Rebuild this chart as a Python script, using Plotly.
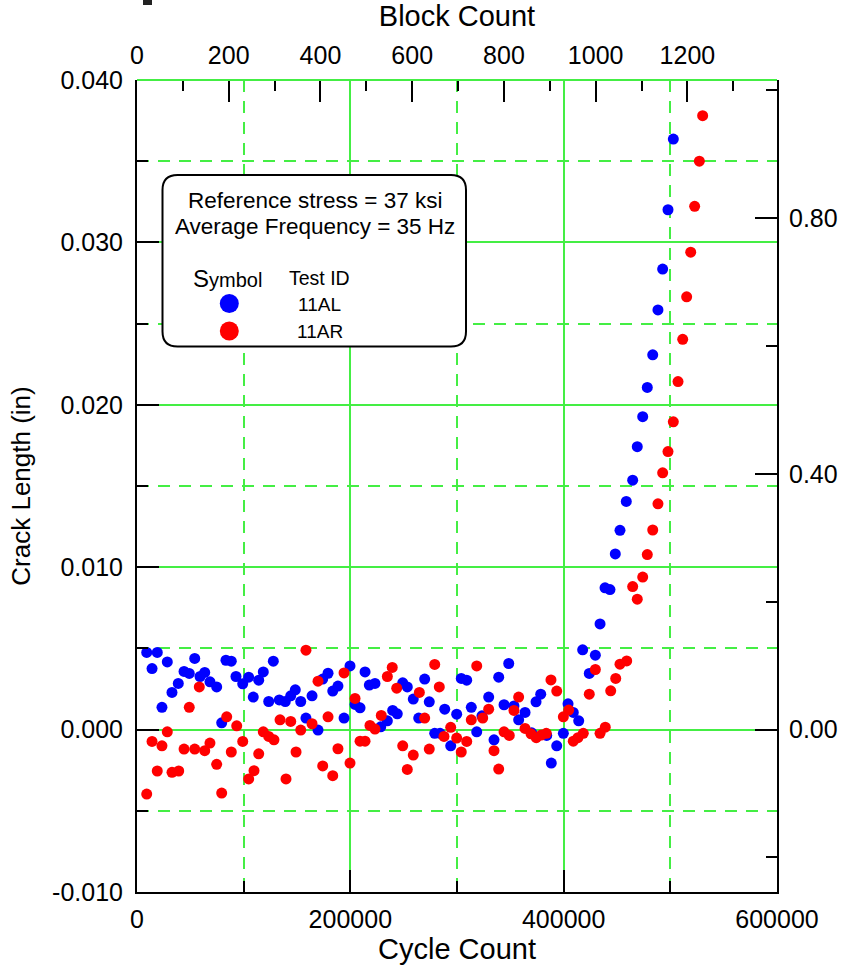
import plotly.graph_objects as go

# ---------------- data ----------------
blue_cycles = [9100, 14100, 19000, 23400, 28400, 32800, 38700, 44100, 49000, 54100,
               59100, 63500, 68400, 74700, 79400, 83400, 88400, 92800, 99100, 104700,
               109000, 114100, 118400, 123500, 127800, 133400, 139000, 144100, 148400, 153500,
               158400, 164100, 169700, 174100, 179100, 183500, 188400, 194100, 199700, 204400,
               209100, 213800, 217800, 223100, 228500, 234700, 239700, 244000, 249100, 253400,
               259000, 264100, 269700, 274000, 279100, 284100, 288500, 294100, 299700, 304000,
               309100, 313400, 318500, 323400, 329700, 334700, 339100, 344100, 348500, 353400,
               357800, 363800, 370000, 374100, 378500, 384100, 388400, 393500, 399700, 404100,
               409000, 414100, 417800, 424000, 429700, 434100, 438800, 443400, 448400, 452800,
               458700, 464700, 469000, 474100, 478400, 483500, 488400, 492800, 497800, 502800]
blue_crack = [0.00475, 0.00376, 0.00475, 0.00137, 0.00417, 0.00229, 0.00284, 0.00358, 0.00346, 0.00438,
              0.00327, 0.00352, 0.00294, 0.00263, 0.00042, 0.00427, 0.00421, 0.00327, 0.00282, 0.00323,
              0.00200, 0.00304, 0.00355, 0.00173, 0.00421, 0.00183, 0.00173, 0.00208, 0.00245, 0.00173,
              0.00071, 0.00208, -0.00003, 0.00311, 0.00347, 0.00237, 0.00268, 0.00071, 0.00392, 0.00155,
              0.00134, 0.00355, 0.00274, 0.00284, 0.00017, 0.00054, 0.00118, 0.00097, 0.00288, 0.00263,
              0.00188, 0.00071, 0.00311, 0.00171, -0.00023, -0.00023, 0.00126, -0.00100, 0.00095, 0.00315,
              0.00304, 0.00137, -0.00014, 0.00085, 0.00200, -0.00063, 0.00323, 0.00153, 0.00407, 0.00146,
              0.00060, 0.00106, -0.00020, 0.00171, 0.00218, -0.00036, -0.00206, -0.00100, -0.00023, 0.00159,
              0.00106, 0.00054, 0.00491, 0.00346, 0.00458, 0.00651, 0.00873, 0.00862, 0.01082, 0.01227,
              0.01405, 0.01536, 0.01742, 0.01927, 0.02107, 0.02308, 0.02584, 0.02836, 0.03201, 0.03636]

red_cycles = [9100, 14100, 19000, 23400, 28400, 32800, 39100, 44100, 49000, 54100,
              58400, 63500, 68400, 74700, 79400, 84100, 88400, 93500, 99100, 104700,
              109700, 114100, 118400, 123500, 128400, 134100, 139700, 144100, 149100, 153500,
              158400, 164100, 169700, 174100, 179100, 183500, 188400, 194100, 199700, 204400,
              209100, 213800, 218400, 223100, 229000, 234700, 239300, 243500, 249100, 253400,
              259000, 264700, 269700, 274000, 279100, 283400, 287800, 294100, 299700, 304000,
              309100, 313400, 318500, 324100, 329700, 334700, 339100, 344100, 349000, 353400,
              357800, 363800, 369400, 374300, 379000, 383700, 388100, 393500, 399700, 404700,
              409000, 413400, 418400, 424000, 429700, 434100, 439000, 444100, 448800, 452800,
              459100, 464700, 469000, 474100, 478400, 483500, 488400, 492800, 497800, 502800,
              507200, 511600, 515300, 519100, 522800, 527200, 530300]
red_crack = [-0.00397, -0.00073, -0.00255, -0.00100, -0.00014, -0.00263, -0.00255, -0.00120, 0.00137, -0.00120,
             0.00263, -0.00130, -0.00083, -0.00214, -0.00391, 0.00079, -0.00138, 0.00023, -0.00073, -0.00304,
             -0.00253, -0.00149, -0.00014, -0.00042, -0.00063, 0.00060, -0.00304, 0.00050, -0.00138, -0.00003,
             0.00489, 0.00036, 0.00298, -0.00224, 0.00079, -0.00284, -0.00118, 0.00349, -0.00206, 0.00192,
             -0.00071, -0.00071, 0.00026, 0.00003, 0.00087, 0.00327, 0.00383, 0.00255, -0.00100, -0.00245,
             -0.00157, 0.00229, 0.00071, -0.00120, 0.00401, 0.00263, -0.00042, 0.00014, -0.00052, -0.00138,
             -0.00073, 0.00060, 0.00392, 0.00071, 0.00126, -0.00130, -0.00243, -0.00014, -0.00036, 0.00118,
             0.00200, 0.00007, -0.00026, -0.00050, -0.00034, -0.00023, 0.00306, 0.00237, 0.00079, 0.00120,
             -0.00071, -0.00050, -0.00023, 0.00218, 0.00370, -0.00023, 0.00015, 0.00239, 0.00315, 0.00403,
             0.00423, 0.00881, 0.00803, 0.00939, 0.01078, 0.01229, 0.01390, 0.01581, 0.01712, 0.01895,
             0.02143, 0.02403, 0.02665, 0.02940, 0.03222, 0.03500, 0.03780]

series_names = ["11AL", "11AR"]
left_tickvals = [-0.010, 0.000, 0.010, 0.020, 0.030, 0.040]
left_ticktext = ["-0.010", "0.000", "0.010", "0.020", "0.030", "0.040"]
left_minorvals = [-0.005, 0.005, 0.015, 0.025, 0.035]
right_tickvals = [0.0, 0.4, 0.8]
right_ticktext = ["0.00", "0.40", "0.80"]
right_minorvals = [-0.2, 0.2, 0.6, 1.0]
bottom_tickvals = [0, 200000, 400000, 600000]
bottom_ticktext = ["0", "200000", "400000", "600000"]
bottom_minorvals = [100000, 300000, 500000]
cycles_per_block = 430
x_range = [0, 600000]
y_range = [-0.010, 0.040]
mm_per_in = 25.4
legend_lines = ["Reference stress = 37 ksi", "Average Frequency = 35 Hz"]

# ---------------- styling ----------------
FONT = "Liberation Sans, Arial, Helvetica, sans-serif"
GREEN = "#44ee44"
GW = 2
DASH = "12px,9px"
W, H = 842, 969
L, R, T, B = 137, 65, 80, 77
PW, PH = W - L - R, H - T - B


def px(xp):
    return (xp - L) / PW


def py(yp):
    return (H - B - yp) / PH


fig = go.Figure()
fig.add_trace(go.Scatter(x=blue_cycles, y=blue_crack, mode="markers", name=series_names[0],
                         marker=dict(color="#0000ff", size=11, line=dict(width=0))))
fig.add_trace(go.Scatter(x=red_cycles, y=red_crack, mode="markers", name=series_names[1],
                         marker=dict(color="#ff0000", size=11, line=dict(width=0))))
# invisible trace to activate secondary axes
fig.add_trace(go.Scatter(x=[0], y=[0], xaxis="x2", yaxis="y2", mode="markers",
                         marker=dict(opacity=0), hoverinfo="skip", showlegend=False))

tickfont = dict(family=FONT, size=25, color="black")
titlefont = dict(family=FONT, size=29, color="black")
ytitlefont = dict(family=FONT, size=26, color="black")

fig.update_layout(
    width=W, height=H, margin=dict(l=L, r=R, t=T, b=B, autoexpand=False),
    paper_bgcolor="white", plot_bgcolor="white", showlegend=False,
    font=dict(family=FONT, color="black"),
    xaxis=dict(range=x_range, tickmode="array", tickvals=bottom_tickvals, ticktext=bottom_ticktext,
               ticks="inside", ticklen=22, tickwidth=2, tickcolor="black", ticklabelstandoff=4,
               showline=True, linecolor="black", linewidth=2, zeroline=False,
               showgrid=True, gridcolor=GREEN, gridwidth=GW,
               minor=dict(tickmode="array", tickvals=bottom_minorvals, ticks="inside", ticklen=11,
                          tickwidth=2, tickcolor="black", showgrid=True, gridcolor=GREEN,
                          gridwidth=GW, griddash=DASH),
               tickfont=tickfont, title=dict(text="Cycle Count", font=titlefont, standoff=6)),
    yaxis=dict(range=y_range, tickmode="array", tickvals=left_tickvals, ticktext=left_ticktext,
               ticks="inside", ticklen=22, tickwidth=2, tickcolor="black", ticklabelstandoff=7,
               showline=True, linecolor="black", linewidth=2, zeroline=False,
               showgrid=True, gridcolor=GREEN, gridwidth=GW,
               minor=dict(tickmode="array", tickvals=left_minorvals, ticks="inside", ticklen=11,
                          tickwidth=2, tickcolor="black", showgrid=True, gridcolor=GREEN,
                          gridwidth=GW, griddash=DASH),
               tickfont=tickfont, title=dict(text="Crack Length (in)", font=ytitlefont, standoff=14)),
    xaxis2=dict(overlaying="x", side="top", range=[x_range[0] / cycles_per_block, x_range[1] / cycles_per_block],
                tick0=0, dtick=200, ticks="inside", ticklen=22, tickwidth=2, tickcolor="black",
                ticklabelstandoff=10,
                showline=False, showgrid=False, zeroline=False,
                minor=dict(dtick=100, ticks="inside", ticklen=11, tickwidth=2, tickcolor="black"),
                tickfont=tickfont, title=dict(text="Block Count", font=titlefont, standoff=5)),
    yaxis2=dict(overlaying="y", side="right", range=[y_range[0] * mm_per_in, y_range[1] * mm_per_in],
                tickmode="array", tickvals=right_tickvals, ticktext=right_ticktext,
                ticks="inside", ticklen=22, tickwidth=2, tickcolor="black", ticklabelstandoff=5,
                showline=True, linecolor="black", linewidth=2, showgrid=False, zeroline=False,
                minor=dict(tickmode="array", tickvals=right_minorvals, ticks="inside", ticklen=11,
                           tickwidth=2, tickcolor="black"),
                tickfont=tickfont),
)

shapes = []
# green top border (gridline at 0.040)
shapes.append(dict(type="line", xref="paper", yref="paper", x0=0, x1=1, y0=1, y1=1,
                   line=dict(color=GREEN, width=2), layer="above"))

# rounded legend box
bx0, bx1, by0, by1, rr = 162.5, 466, 175, 346.5, 15


def rounded_path(x0, x1, y0, y1, r):
    pts = [
        f"M {px(x0 + r)} {py(y0)}",
        f"L {px(x1 - r)} {py(y0)}",
        f"Q {px(x1)} {py(y0)} {px(x1)} {py(y0 + r)}",
        f"L {px(x1)} {py(y1 - r)}",
        f"Q {px(x1)} {py(y1)} {px(x1 - r)} {py(y1)}",
        f"L {px(x0 + r)} {py(y1)}",
        f"Q {px(x0)} {py(y1)} {px(x0)} {py(y1 - r)}",
        f"L {px(x0)} {py(y0 + r)}",
        f"Q {px(x0)} {py(y0)} {px(x0 + r)} {py(y0)}",
        "Z",
    ]
    return " ".join(pts)


shapes.append(dict(type="path", xref="paper", yref="paper", path=rounded_path(bx0, bx1, by0, by1, rr),
                   fillcolor="white", line=dict(color="black", width=2), layer="above"))

# legend symbols
for (cx, cy, col) in [(229.3, 303.5, "#0000ff"), (229.3, 331, "#ff0000")]:
    shapes.append(dict(type="circle", xref="paper", yref="paper", xsizemode="pixel", ysizemode="pixel",
                       xanchor=px(cx), yanchor=py(cy), x0=-9.5, x1=9.5, y0=-9.5, y1=9.5,
                       fillcolor=col, line=dict(color=col, width=0), layer="above"))

# small dark mark at top of image
shapes.append(dict(type="rect", xref="paper", yref="paper", x0=px(143), x1=px(152), y0=py(5), y1=py(-2),
                   fillcolor="#222222", line=dict(width=0), layer="above"))

fig.update_layout(shapes=shapes)

ann = []


def add_text(text, x, y, size):
    ann.append(dict(text=text, xref="paper", yref="paper", x=px(x), y=py(y), xanchor="center",
                    yanchor="middle", showarrow=False, font=dict(family=FONT, size=size, color="black")))


add_text(legend_lines[0], 315, 200, 22.5)
add_text(legend_lines[1], 314.5, 226.5, 22.5)
add_text("<span style='font-size:24px'>S</span>ymbol", 227, 278, 20)
add_text("Test ID", 319.5, 278, 19.5)
add_text(series_names[0], 319.5, 304, 19)
add_text(series_names[1], 319.8, 331, 19)
fig.update_layout(annotations=ann)

fig.write_html("out.html", config={"displayModeBar": False},
               post_script="document.body.style.margin='0px';document.body.style.padding='0px';")
